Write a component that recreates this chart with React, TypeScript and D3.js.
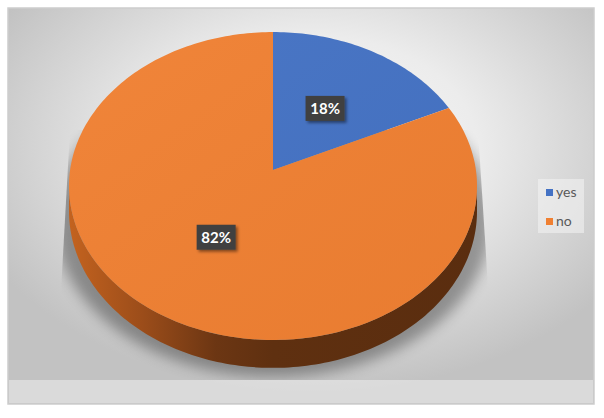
import React, { useEffect, useRef } from 'react';
import * as d3 from 'd3';

const categories = ['yes', 'no'];
const values = [18, 82];
const sliceLabels = ['18%', '82%'];
const colors = ['#4472c4', '#f08032'];
const sideColors = ['#2a4a80', 'url(#sideGrad)'];

const W = 604;
const H = 418;

// perspective pie: unit circle (u, v), v = -1 far (top), v = +1 near (bottom)
const cx = 273;
const cy = 170;
const A = 202.9;
const B = 152.3;
const s = 0.104;
const depth = 25;

function project(theta: number, r: number, down = 0): [number, number] {
    const u = r * Math.sin(theta);
    const v = -r * Math.cos(theta);
    const w = 1 - s * v;
    return [cx + (A * u) / w, cy + (B * v) / w + (down * depth) / w];
}

function arcPoints(a0: number, a1: number, down = 0): [number, number][] {
    const n = Math.max(2, Math.ceil(Math.abs(a1 - a0) / 0.02));
    return d3.range(n + 1).map(i => project(a0 + ((a1 - a0) * i) / n, 1, down));
}

const App: React.FC = () => {
    const svgRef = useRef<SVGSVGElement>(null);

    useEffect(() => {
        const svg = d3.select(svgRef.current);
        svg.selectAll('*').remove();

        const defs = svg.append('defs');

        const bg = defs.append('radialGradient')
            .attr('id', 'bgGrad')
            .attr('cx', '52%').attr('cy', '35%').attr('r', '62%');
        bg.append('stop').attr('offset', '0%').attr('stop-color', '#f8f8f8');
        bg.append('stop').attr('offset', '45%').attr('stop-color', '#ececec');
        bg.append('stop').attr('offset', '100%').attr('stop-color', '#c2c2c2');

        const side = defs.append('linearGradient')
            .attr('id', 'sideGrad')
            .attr('gradientUnits', 'userSpaceOnUse')
            .attr('x1', 68).attr('x2', 478).attr('y1', 0).attr('y2', 0);
        [[0, '#c4631f'], [0.18, '#9c4d1a'], [0.36, '#6c3613'], [0.5, '#5f3010'], [1, '#5a2d0f']]
            .forEach(([o, c]) => side.append('stop').attr('offset', o as number).attr('stop-color', c as string));

        const topGrad = defs.append('linearGradient')
            .attr('id', 'topGrad')
            .attr('x1', '0%').attr('y1', '0%').attr('x2', '100%').attr('y2', '100%');
        topGrad.append('stop').attr('offset', '0%').attr('stop-color', '#ffffff').attr('stop-opacity', 0.04);
        topGrad.append('stop').attr('offset', '100%').attr('stop-color', '#000000').attr('stop-opacity', 0.03);

        defs.append('filter').attr('id', 'blur')
            .attr('x', '-20%').attr('y', '-20%').attr('width', '140%').attr('height', '140%')
            .append('feGaussianBlur').attr('stdDeviation', 7);

        const ds = defs.append('filter').attr('id', 'labelShadow')
            .attr('x', '-30%').attr('y', '-30%').attr('width', '170%').attr('height', '170%');
        ds.append('feDropShadow').attr('dx', 2).attr('dy', 2).attr('stdDeviation', 1.5)
            .attr('flood-color', '#000').attr('flood-opacity', 0.45);

        defs.append('clipPath').attr('id', 'shadowClip')
            .append('polygon')
            .attr('points', '70,130 56,380 494,380 478,130');

        // frame + plot background
        svg.append('rect').attr('width', W).attr('height', H).attr('fill', '#ffffff');
        svg.append('rect')
            .attr('x', 8).attr('y', 8).attr('width', 586).attr('height', 396)
            .attr('fill', 'url(#bgGrad)')
            .attr('stroke', '#cdcdcd').attr('stroke-width', 1.5);

        // lighter strip under the shadow
        svg.append('rect')
            .attr('x', 9).attr('y', 380).attr('width', 584).attr('height', 23)
            .attr('fill', '#efefef').attr('opacity', 0.55);

        const line = d3.line();

        // cast shadow
        const shadowPts = arcPoints(0, 2 * Math.PI, 1).map(([x, y]) => [
            cx + (x - cx) * 1.07, y + 9
        ] as [number, number]);
        svg.append('g').attr('clip-path', 'url(#shadowClip)')
            .append('path')
            .attr('d', line(shadowPts) + 'Z')
            .attr('fill', '#000').attr('opacity', 0.34)
            .attr('filter', 'url(#blur)');

        const pie = d3.pie<number>().sort(null).value(d => d);
        const arcs = pie(values);

        // visible side from right tangent to left tangent through the front
        const tR = Math.acos(-s);
        const tL = 2 * Math.PI - tR;

        arcs.forEach((a, i) => {
            const a0 = Math.max(a.startAngle, tR);
            const a1 = Math.min(a.endAngle, tL);
            if (a1 <= a0) return;
            const topEdge = arcPoints(a0, a1, 0);
            const botEdge = arcPoints(a1, a0, 1);
            svg.append('path')
                .attr('d', line([...topEdge, ...botEdge]) + 'Z')
                .attr('fill', sideColors[i]);
        });

        // top faces
        arcs.forEach((a, i) => {
            const pts: [number, number][] = [[cx, cy], ...arcPoints(a.startAngle, a.endAngle, 0)];
            svg.append('path')
                .attr('d', line(pts) + 'Z')
                .attr('fill', colors[i]);
        });
        svg.append('path')
            .attr('d', line(arcPoints(0, 2 * Math.PI, 0)) + 'Z')
            .attr('fill', 'url(#topGrad)');

        // data labels
        arcs.forEach((a, i) => {
            const [lx, ly] = project((a.startAngle + a.endAngle) / 2, 0.5, 0);
            const g = svg.append('g').attr('transform', `translate(${lx},${ly})`);
            g.append('rect')
                .attr('x', -19.5).attr('y', -12.5).attr('width', 39).attr('height', 25)
                .attr('fill', '#404040')
                .attr('filter', 'url(#labelShadow)');
            g.append('text')
                .attr('text-anchor', 'middle')
                .attr('dy', '0.36em')
                .attr('fill', '#ffffff')
                .attr('font-family', 'Lato, "Open Sans", sans-serif')
                .attr('font-weight', 700)
                .attr('font-size', 15)
                .text(sliceLabels[i]);
        });

        // legend
        const legend = svg.append('g').attr('transform', 'translate(538,179)');
        legend.append('rect')
            .attr('width', 46).attr('height', 54)
            .attr('fill', '#f4f4f4').attr('opacity', 0.55);
        categories.forEach((c, i) => {
            const row = legend.append('g').attr('transform', `translate(8,${14 + i * 29})`);
            row.append('rect').attr('x', 0).attr('y', -4).attr('width', 7).attr('height', 7).attr('fill', colors[i]);
            row.append('text')
                .attr('x', 10).attr('dy', '0.32em')
                .attr('fill', '#595959')
                .attr('font-family', 'Lato, "Open Sans", sans-serif')
                .attr('font-size', 14)
                .text(c);
        });
    }, []);

    return (
        <svg ref={svgRef} width={W} height={H} style={{ position: 'absolute', left: 0, top: 0 }}></svg>
    );
};

export default App;
